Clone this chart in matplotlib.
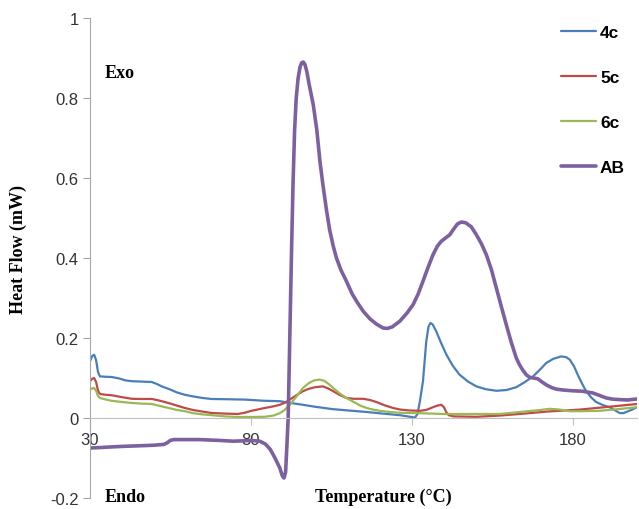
import matplotlib.pyplot as plt

# DSC traces, temperature in degC, heat flow in mW
t_4c = [30, 30.7, 31.3, 31.9, 32.5, 33.1, 35, 36.7, 39, 41, 43, 46, 49.2, 50.8, 52.3, 55, 57, 59.5,
        62, 65, 67.8, 72, 78.1, 84.3, 89, 92, 96.2, 100, 105.6, 110, 116, 121, 126.3, 129.5, 131,
        131.8, 132.5, 133.5, 134.5, 135.2, 135.8, 136.5, 137.6, 139, 140.8, 142.8, 144.9, 147.5,
        150.1, 153, 156.3, 159.5, 162.5, 165, 167.7, 170, 171.8, 174, 176.5, 178, 179.1, 180.4,
        181.6, 183, 184.2, 185.7, 187.3, 189.5, 191.5, 193, 194.6, 195.7, 196.7, 198.5, 200]
hf_4c = [0.142, 0.155, 0.158, 0.145, 0.115, 0.104, 0.103, 0.1025, 0.099, 0.094, 0.092, 0.091, 0.09,
         0.085, 0.079, 0.071, 0.064, 0.058, 0.054, 0.05, 0.0475, 0.047, 0.046, 0.043, 0.042, 0.038,
         0.033, 0.028, 0.022, 0.019, 0.015, 0.011, 0.007, 0.003, 0.001, 0.01, 0.04, 0.092, 0.19,
         0.228, 0.2375, 0.234, 0.217, 0.19, 0.158, 0.13, 0.108, 0.091, 0.079, 0.072, 0.068, 0.07,
         0.077, 0.089, 0.104, 0.122, 0.1375, 0.148, 0.154, 0.152, 0.146, 0.13, 0.108, 0.085, 0.067,
         0.052, 0.04, 0.032, 0.027, 0.02, 0.0125, 0.012, 0.015, 0.021, 0.027]

t_5c = [30, 30.7, 31.3, 31.9, 32.5, 33.1, 35, 36.7, 40, 43, 46, 49.2, 50.8, 52.3, 55, 57, 59.5, 62,
        65, 67.8, 72, 76, 78, 80.2, 82, 84.3, 87, 89, 90.5, 92.1, 94, 96.2, 98, 100, 102.4, 104,
        105.6, 107.5, 109.7, 112, 114.9, 117, 119, 121.5, 124.2, 126.5, 129, 132.5, 134.5, 136.6,
        138, 139.2, 140, 140.7, 141.5, 143, 150, 157.3, 165, 172, 182.2, 190, 200]
hf_5c = [0.092, 0.098, 0.1, 0.09, 0.068, 0.06, 0.058, 0.057, 0.052, 0.048, 0.0475, 0.0475, 0.045,
         0.042, 0.036, 0.031, 0.025, 0.02, 0.016, 0.0125, 0.011, 0.01, 0.013, 0.018, 0.021, 0.025,
         0.029, 0.033, 0.038, 0.046, 0.056, 0.067, 0.073, 0.077, 0.079, 0.074, 0.067, 0.058, 0.05,
         0.048, 0.048, 0.045, 0.04, 0.032, 0.025, 0.021, 0.019, 0.018, 0.02, 0.027, 0.031, 0.033,
         0.027, 0.015, 0.007, 0.004, 0.003, 0.006, 0.011, 0.016, 0.021, 0.027, 0.035]

t_6c = [30, 30.7, 31.3, 31.9, 32.5, 33.1, 35, 36.7, 40, 43, 46, 49.2, 50.8, 52.3, 55, 57, 59.5, 62,
        65, 67.8, 72, 76, 80, 84.3, 87, 89, 90.5, 92.1, 94, 96.2, 98, 99.7, 101.4, 102.8, 104.2,
        105.6, 107.5, 109.7, 112, 114, 116, 118, 120, 123.2, 126.3, 132.5, 140, 150, 157.3, 165,
        170, 172.9, 176, 179.1, 183, 188.4, 194, 200]
hf_6c = [0.071, 0.074, 0.075, 0.068, 0.055, 0.05, 0.046, 0.043, 0.04, 0.0375, 0.036, 0.035, 0.032,
         0.029, 0.024, 0.02, 0.017, 0.012, 0.009, 0.007, 0.004, 0.0025, 0.0025, 0.003, 0.006, 0.012,
         0.02, 0.033, 0.052, 0.075, 0.087, 0.094, 0.096, 0.093, 0.085, 0.075, 0.062, 0.05, 0.04,
         0.031, 0.025, 0.021, 0.018, 0.015, 0.013, 0.012, 0.01, 0.01, 0.01, 0.016, 0.02, 0.023,
         0.021, 0.017, 0.017, 0.018, 0.022, 0.027]

t_ab = [30, 33, 36.2, 40, 43.5, 47, 50, 53, 54, 55, 56, 60, 64, 70, 74.5, 78, 80, 82.8, 84.5, 86,
        87.5, 89, 89.8, 90.3, 90.8, 91.2, 91.6, 92.1, 92.6, 93.1, 93.6, 94.1, 94.7, 95.3, 95.8,
        96.3, 96.8, 97.4, 98.1, 99.4, 100.5, 101.5, 102.4, 103.5, 104.5, 105.6, 106.6, 108, 109.7,
        111.5, 113, 114.9, 117, 119, 121.1, 122.5, 124, 126.3, 128.5, 130.4, 132, 133.5, 135,
        136.6, 138, 139.2, 140.5, 141.8, 143, 144.2, 145.4, 146.8, 148.5, 150.1, 151.7, 153.2,
        154.8, 156.3, 157.8, 159.4, 160.9, 162.5, 163.5, 164.5, 165.6, 166.6, 167.8, 169.2, 170.5,
        172, 173.5, 175, 177, 180, 183, 186.3, 188.5, 190.5, 192.5, 194.6, 197, 200]
hf_ab = [-0.075, -0.074, -0.0725, -0.071, -0.07, -0.069, -0.068, -0.066, -0.062, -0.056, -0.054,
         -0.054, -0.054, -0.056, -0.058, -0.057, -0.056, -0.058, -0.065, -0.078, -0.1, -0.125,
         -0.145, -0.15, -0.135, -0.07, 0.0, 0.2, 0.4, 0.583, 0.72, 0.8, 0.85, 0.878, 0.888, 0.89,
         0.884, 0.866, 0.835, 0.783, 0.72, 0.64, 0.583, 0.52, 0.47, 0.43, 0.4, 0.37, 0.342, 0.31,
         0.29, 0.267, 0.248, 0.235, 0.225, 0.224, 0.228, 0.242, 0.262, 0.283, 0.31, 0.342, 0.375,
         0.408, 0.43, 0.442, 0.45, 0.458, 0.472, 0.485, 0.49, 0.488, 0.478, 0.458, 0.435, 0.408,
         0.37, 0.325, 0.28, 0.233, 0.19, 0.15, 0.133, 0.12, 0.108, 0.102, 0.1, 0.098, 0.09, 0.082,
         0.076, 0.072, 0.07, 0.068, 0.067, 0.0625, 0.056, 0.05, 0.047, 0.046, 0.045, 0.0475]

series = [
    ('4c', t_4c, hf_4c, '#4A7EBB', 1.6),
    ('5c', t_5c, hf_5c, '#BE4B48', 1.6),
    ('6c', t_6c, hf_6c, '#98B954', 1.6),
    ('AB', t_ab, hf_ab, '#7D60A0', 2.6),
]

fig = plt.figure(figsize=(6.39, 5.10), dpi=100)
ax = fig.add_axes([0.1408, 0.0216, 0.856, 0.9411])

for name, t, hf, col, lw in series:
    ax.plot(t, hf, color=col, lw=lw, label=name,
            solid_joinstyle='round', solid_capstyle='round')

ax.set_xlim(30, 200)
ax.set_ylim(-0.2, 1)
ax.set_xticks([30, 80, 130, 180])
ax.set_yticks([-0.2, 0, 0.2, 0.4, 0.6, 0.8, 1])
ax.set_yticklabels(['-0.2', '0', '0.2', '0.4', '0.6', '0.8', '1'])

for s in ['top', 'right']:
    ax.spines[s].set_visible(False)
ax.spines['bottom'].set_position(('data', 0))
ax.spines['bottom'].set_color('#BFBFBF')
ax.spines['left'].set_color('#A6A6A6')
ax.tick_params(axis='x', direction='out', length=5, color='#BFBFBF', pad=5,
               labelsize=12, labelcolor='#333333')
ax.tick_params(axis='y', direction='out', length=5, color='#A6A6A6', pad=3,
               labelsize=12, labelcolor='#333333')
for lab in ax.get_xticklabels() + ax.get_yticklabels():
    lab.set_fontfamily('Liberation Sans')

serif = dict(family='Liberation Serif', weight='bold', fontsize=13)
ax.text(34.7, 0.863, 'Exo', ha='left', va='center', **serif)
ax.text(34.7, -0.196, 'Endo', ha='left', va='center', **serif)
ax.text(99.9, -0.196, 'Temperature (\u00b0C)', ha='left', va='center', **serif)
fig.text(0.028, 0.51, 'Heat Flow (mW)', rotation=90, ha='center', va='center', **serif)

ax.legend(loc='upper left', bbox_to_anchor=(561 / 639, 1 - 26 / 510),
          bbox_transform=fig.transFigure, frameon=False, borderpad=0, borderaxespad=0,
          handlelength=2.0, handletextpad=0.25, labelspacing=1.72,
          prop={'family': 'Liberation Sans', 'weight': 'bold', 'size': 12.5})

fig.savefig('out.png', dpi=100)
